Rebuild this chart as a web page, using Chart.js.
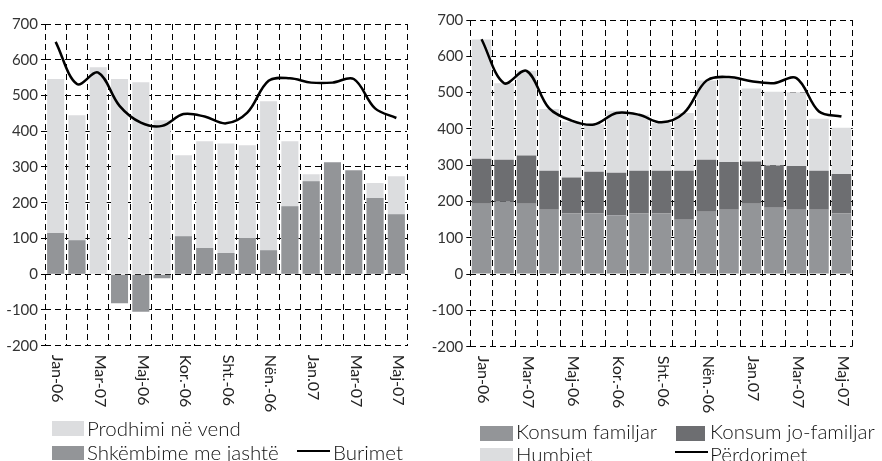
<!DOCTYPE html>
<html>
<head>
<meta charset="utf-8">
<script src="https://cdn.jsdelivr.net/npm/chart.js@4/dist/chart.umd.min.js"></script>
<style>
  html, body { margin: 0; padding: 0; background: #fff; }
  #wrap { position: relative; width: 882px; height: 461px; overflow: hidden; font-family: Lato, "Open Sans", sans-serif; }
  canvas { position: absolute; top: 0; }
  #left { left: 0; }
  #right { left: 420px; }
  .lg { position: absolute; height: 0; line-height: 0; font-size: 20.5px; font-weight: 300; color: #111; white-space: nowrap; }
  .sw { position: absolute; }
  .ln { position: absolute; height: 2px; background: #000; }
</style>
</head>
<body>
<div id="wrap">
  <canvas id="left" width="441" height="420"></canvas>
  <canvas id="right" width="462" height="420"></canvas>

  <!-- legend, left panel -->
  <div class="sw" style="left:52px;top:421px;width:32px;height:15px;background:#dcdddf"></div>
  <div class="lg" style="left:87px;top:428px">Prodhimi në vend</div>
  <div class="sw" style="left:52px;top:446px;width:32px;height:14px;background:#939598"></div>
  <div class="lg" style="left:87px;top:452px">Shkëmbime me jashtë</div>
  <div class="ln" style="left:297px;top:450px;width:33px"></div>
  <div class="lg" style="left:333px;top:452px">Burimet</div>

  <!-- legend, right panel -->
  <div class="sw" style="left:480px;top:426px;width:33px;height:15px;background:#939598"></div>
  <div class="lg" style="left:516px;top:431px">Konsum familjar</div>
  <div class="sw" style="left:676px;top:426px;width:29px;height:15px;background:#6d6e71"></div>
  <div class="lg" style="left:710px;top:431px">Konsum jo-familjar</div>
  <div class="sw" style="left:480px;top:448px;width:33px;height:14px;background:#dcdddf"></div>
  <div class="lg" style="left:516px;top:454px">Humbjet</div>
  <div class="ln" style="left:675px;top:451px;width:33px"></div>
  <div class="lg" style="left:710px;top:454px">Përdorimet</div>
</div>

<script>
// Months Jan-06 .. Maj-07; only every second month carries a label
const categories = ['Jan-06', '', 'Mar-07', '', 'Maj-06', '', 'Kor.-06', '', 'Sht.-06', '', 'Nën.-06', '', 'Jan.07', '', 'Mar-07', '', 'Maj-07'];
const yTicks = { min: -200, max: 700, step: 100 };

// Left panel: resources
const prodhimiNeVend   = [546, 445, 579, 546, 537, 431, 333, 372, 366, 361, 484, 372, 280, 225, 250, 255, 274];
const shkembimeJashte  = [115, 95, 0, -81, -105, -11, 106, 73, 59, 101, 67, 190, 260, 313, 291, 213, 168];
const burimet          = [650, 532, 564, 471, 424, 415, 448, 441, 422, 452, 541, 548, 536, 536, 546, 464, 437];

// Right panel: uses
const konsumFamiljar   = [194, 199, 194, 177, 167, 167, 162, 167, 167, 150, 172, 177, 194, 183, 177, 177, 167];
const konsumJoFamiljar = [124, 116, 133, 108, 99, 115, 117, 118, 118, 135, 143, 132, 116, 116, 121, 108, 109];
const humbjet          = [328, 211, 233, 170, 154, 131, 171, 154, 131, 159, 218, 229, 201, 203, 203, 143, 127];
const perdorimet       = [647, 526, 560, 457, 423, 412, 444, 439, 418, 444, 533, 543, 531, 526, 540, 448, 434];

const LIGHT = '#dcdddf', MID = '#939598', DARK = '#6d6e71';
const FONT = 'Lato, "Open Sans", sans-serif';

// Month labels read top-to-bottom under each category
const verticalLabels = {
  id: 'verticalLabels',
  afterDraw(chart) {
    const { ctx, chartArea, scales: { x } } = chart;
    ctx.save();
    ctx.font = '16px ' + FONT;
    ctx.fillStyle = '#222';
    ctx.textAlign = 'left';
    ctx.textBaseline = 'middle';
    categories.forEach((lab, i) => {
      if (!lab) return;
      ctx.save();
      ctx.translate(x.getPixelForValue(i) + 2, chartArea.bottom + 9);
      ctx.rotate(Math.PI / 2);
      ctx.fillText(lab, 0, 0);
      ctx.restore();
    });
    ctx.restore();
  }
};

function scales(axisWidth, stacked) {
  return {
    x: {
      stacked,
      ticks: { display: false },
      grid: { color: '#000', lineWidth: 1, drawTicks: false, offset: true },
      border: { display: false, dash: [6, 4] },
      afterFit(s) { s.height = 0; }
    },
    y: {
      stacked,
      min: yTicks.min, max: yTicks.max,
      ticks: { stepSize: yTicks.step, color: '#333', font: { family: FONT, size: 15 }, padding: 3 },
      grid: { color: '#000', lineWidth: 1, tickLength: 4, tickBorderDash: [] },
      border: { display: false, dash: [6, 4] },
      afterFit(s) { s.width = axisWidth; }
    }
  };
}

const common = {
  responsive: false,
  animation: false,
  plugins: { legend: { display: false }, tooltip: { enabled: false } },
  elements: { point: { radius: 0 } }
};

new Chart(document.getElementById('left'), {
  type: 'bar',
  data: {
    labels: categories,
    datasets: [
      { type: 'line', label: 'Burimet', data: burimet, borderColor: '#000', borderWidth: 2.5, tension: 0.35, fill: false },
      { label: 'Shkëmbime me jashtë', data: shkembimeJashte, backgroundColor: MID, grouped: false, barPercentage: 1, categoryPercentage: 0.8 },
      { label: 'Prodhimi në vend', data: prodhimiNeVend, backgroundColor: LIGHT, grouped: false, barPercentage: 1, categoryPercentage: 0.8 }
    ]
  },
  options: Object.assign({}, common, {
    layout: { padding: { left: 0, right: 34, top: 24, bottom: 74.3 } },
    scales: scales(45, false)
  }),
  plugins: [verticalLabels]
});

new Chart(document.getElementById('right'), {
  type: 'bar',
  data: {
    labels: categories,
    datasets: [
      { type: 'line', label: 'Përdorimet', data: perdorimet, borderColor: '#000', borderWidth: 2.5, tension: 0.35, fill: false, stack: 'total' },
      { label: 'Konsum familjar', data: konsumFamiljar, backgroundColor: MID, stack: 'uses', barPercentage: 1, categoryPercentage: 0.87 },
      { label: 'Konsum jo-familjar', data: konsumJoFamiljar, backgroundColor: DARK, stack: 'uses', barPercentage: 1, categoryPercentage: 0.87 },
      { label: 'Humbjet', data: humbjet, backgroundColor: LIGHT, stack: 'uses', barPercentage: 1, categoryPercentage: 0.87 }
    ]
  },
  options: Object.assign({}, common, {
    layout: { padding: { left: 0, right: 29.3, top: 20, bottom: 73.3 } },
    scales: scales(50.3, true)
  }),
  plugins: [verticalLabels]
});
</script>
</body>
</html>
